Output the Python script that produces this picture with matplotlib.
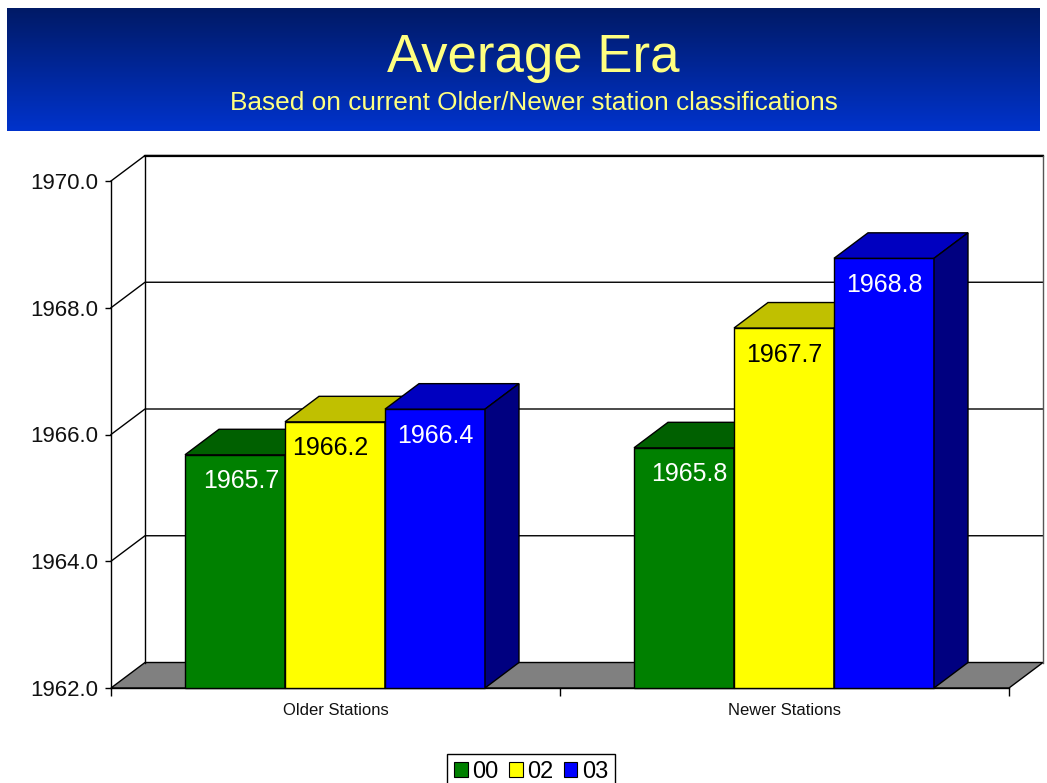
#!/usr/bin/env python3
import numpy as np
import matplotlib
matplotlib.use('Agg')
import matplotlib.pyplot as plt
from matplotlib.patches import Patch

plt.rcParams['font.family'] = ['Liberation Sans', 'DejaVu Sans']

categories = ['Older Stations', 'Newer Stations']
series = ['00', '02', '03']
values_00 = [1965.68, 1965.79]
values_02 = [1966.20, 1967.68]
values_03 = [1966.40, 1968.78]
all_values = [values_00, values_02, values_03]
yticks = [1962, 1964, 1966, 1968, 1970]

front_colors = ['#008000', '#FFFF00', '#0000FF']
top_colors = ['#006000', '#C0C000', '#0000C0']
side_colors = ['#004000', '#808000', '#000080']
label_colors = ['white', 'black', 'white']
# the labels are not quite centred on their bars in the original, pixels per series/group
label_dx = [[6, 5], [-5, 0], [0, 0]]

W, H = 1047, 783
fig = plt.figure(figsize=(W / 100, H / 100), dpi=100)
fig.patch.set_facecolor('white')


def box(x0, y0, x1, y1):
    # pixel box measured from top left
    return [x0 / W, 1 - y1 / H, (x1 - x0) / W, (y1 - y0) / H]


# header band
hd = fig.add_axes(box(7, 8, 1040, 131))
hd.imshow(np.linspace(0, 1, 256).reshape(-1, 1), aspect='auto', extent=(0, 1, 0, 1),
          cmap=matplotlib.colors.LinearSegmentedColormap.from_list('hd', ['#001A66', '#0033CC']))
hd.axis('off')
fig.text(533 / W, 1 - 58 / H, 'Average Era', color='#FFFF80', fontsize=38, ha='center', va='center')
fig.text(533.5 / W, 1 - 103 / H, 'Based on current Older/Newer station classifications',
         color='#FFFF80', fontsize=18.9, ha='center', va='center')

ax = fig.add_axes(box(111, 181, 1009, 688))
ax.set_xlim(0, 2)
ax.set_ylim(1962, 1970)
ax.patch.set_alpha(0)
for s in ['top', 'right']:
    ax.spines[s].set_visible(False)
ax.spines['left'].set_linewidth(1.0)
ax.spines['bottom'].set_linewidth(1.0)
ax.spines['left'].set_zorder(2)

# depth of the fake 3d box in data units
dx = 34 / 449
dy = 25.5 / (507 / 8)

# floor and back wall
ax.fill([0, 2, 2 + dx, dx], [1962, 1962, 1962 + dy, 1962 + dy], fc='#808080', ec='black', lw=1,
        clip_on=False, zorder=1)
for t in yticks[1:]:
    ax.plot([0, dx, 2 + dx], [t, t + dy, t + dy], color='black', lw=1, clip_on=False, zorder=1)
ax.plot([dx, 2 + dx], [1970 + dy, 1970 + dy], color='black', lw=1.6, clip_on=False, zorder=1)
ax.plot([dx, dx], [1962 + dy, 1970 + dy], color='black', lw=1, clip_on=False, zorder=1)
ax.plot([2 + dx, 2 + dx], [1962 + dy, 1970 + dy], color='#555555', lw=1, clip_on=False, zorder=1)

# bars, front face through bar(), top and side on top of it
bar_w = 100 / 449
for g in range(len(categories)):
    for i, vals in enumerate(all_values):
        left = g + 0.5 + (i - 1.5) * bar_w - 0.5 / 449
        v = vals[g]
        z = 3 + g * 3 + i * 0.1
        ax.bar(left, v - 1962, bar_w, bottom=1962, align='edge', color=front_colors[i],
               edgecolor='black', lw=1, zorder=z, clip_on=False)
        ax.fill([left, left + bar_w, left + bar_w + dx, left + dx], [v, v, v + dy, v + dy],
                fc=top_colors[i], ec='black', lw=1, zorder=z, clip_on=False)
        ax.fill([left + bar_w, left + bar_w + dx, left + bar_w + dx, left + bar_w],
                [1962, 1962 + dy, v + dy, v], fc=side_colors[i], ec='black', lw=1, zorder=z,
                clip_on=False)
        ax.annotate(f'{v:.1f}', (left + bar_w / 2, v), xytext=(label_dx[i][g], -26.5),
                    textcoords='offset pixels', ha='center', va='center',
                    color=label_colors[i], fontsize=18, zorder=z + 0.05)

ax.set_yticks(yticks)
ax.set_yticklabels([f'{t:.1f}' for t in yticks], fontsize=16, color='#111111')
ax.tick_params(axis='y', length=4.5, width=1, pad=5)
ax.set_xticks([0, 1, 2])
ax.set_xticklabels([])
ax.tick_params(axis='x', length=6, width=1)
ax.set_xticks([0.5, 1.5], minor=True)
ax.set_xticklabels(categories, minor=True, fontsize=12, color='#111111')
ax.tick_params(axis='x', which='minor', length=0, pad=11)

handles = [Patch(fc=c, ec='black', lw=0.8) for c in front_colors]
fig.legend(handles, series, loc='upper left', bbox_to_anchor=(447 / W, 1 - 754 / H), ncol=3,
           fontsize=17, frameon=True, fancybox=False, edgecolor='black', framealpha=1,
           borderpad=0.3, handlelength=0.58, handleheight=0.6, handletextpad=0.2,
           columnspacing=0.43, borderaxespad=0)

fig.savefig('out.png', dpi=100)
